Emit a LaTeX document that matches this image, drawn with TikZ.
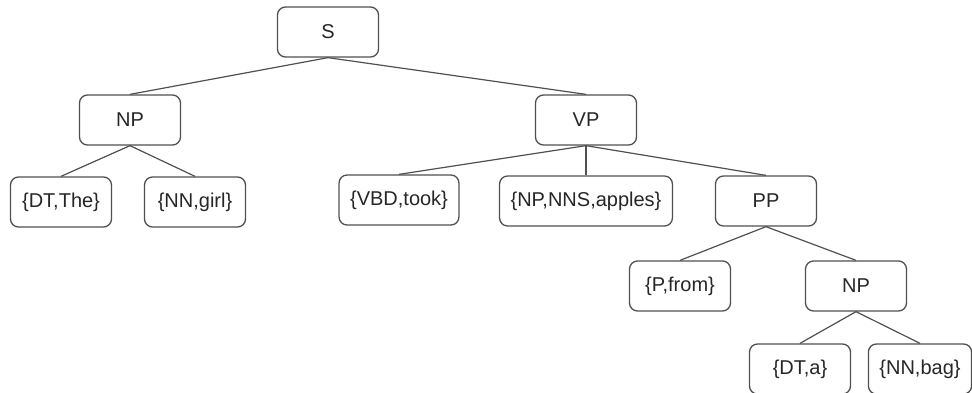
\documentclass[tikz,border=0pt]{standalone}
\usepackage{fontspec}
\setmainfont{Liberation Sans}
\definecolor{edgegray}{HTML}{505050}
\begin{document}
\begin{tikzpicture}[x=1pt,y=-1pt,
  treenode/.style={draw=edgegray,line width=1.3pt,rounded corners=8pt,
    minimum width=101pt,minimum height=50pt,inner xsep=11pt,
    font=\fontsize{20}{23}\selectfont,text=black!85}]
  \useasboundingbox (0,0) rectangle (972,392);
  \node[treenode] (s) at (328,32) {S};
  \node[treenode] (np) at (130,120) {NP};
  \node[treenode] (vp) at (586,120) {VP};
  \node[treenode] (dt) at (61,202) {\{DT,The\}};
  \node[treenode] (girl) at (195,202) {\{NN,girl\}};
  \node[treenode] (vbd) at (399,200) {\{VBD,took\}};
  \node[treenode] (apples) at (586,201) {\{NP,NNS,apples\}};
  \node[treenode] (pp) at (766,201) {PP};
  \node[treenode] (from) at (680,286) {\{P,from\}};
  \node[treenode] (npb) at (856,286) {NP};
  \node[treenode] (dta) at (800,369) {\{DT,a\}};
  \node[treenode] (bag) at (920,369) {\{NN,bag\}};
  \foreach \a/\b in {s/np,s/vp,np/dt,np/girl,vp/vbd,vp/apples,vp/pp,
                     pp/from,pp/npb,npb/dta,npb/bag}
    \draw[edgegray,line width=1.2pt] (\a.south) -- (\b.north);
\end{tikzpicture}
\end{document}
